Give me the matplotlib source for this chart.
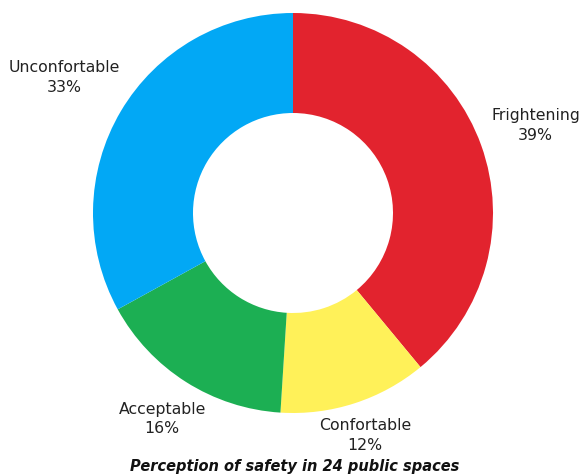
import numpy as np
import matplotlib.pyplot as plt

categories = ['Frightening', 'Confortable', 'Acceptable', 'Unconfortable']
values = [39, 12, 16, 33]
colors = ['#E2232E', '#FFF159', '#1CAF53', '#02A8F5']
label_dist = [1.29, 1.17, 1.22, 1.33]
title = 'Perception of safety in 24 public spaces'

plt.rcParams['font.family'] = ['DejaVu Sans']

fig = plt.figure(figsize=(5.84, 4.75), dpi=100)
ax = fig.add_axes([0, 0, 1, 1])

cx, cy, r = 293, 475 - 213, 200
wedges, _ = ax.pie(values, colors=colors, startangle=90, counterclock=False,
                   center=(cx, cy), radius=r,
                   wedgeprops=dict(width=r * 0.5, linewidth=0))
ax.set_xlim(0, 584)
ax.set_ylim(0, 475)
ax.set_aspect('equal')
ax.axis('off')

for w, name, v, d in zip(wedges, categories, values, label_dist):
    ang = np.deg2rad((w.theta1 + w.theta2) / 2)
    x = cx + r * d * np.cos(ang)
    y = cy + r * d * np.sin(ang)
    ax.text(x, y, f'{name}\n{v}%', ha='center', va='center', fontsize=11.3,
            color='#222222', linespacing=1.4)

ax.text(295, 475 - 466, title, ha='center', va='center', fontsize=10.5,
        fontweight='bold', fontstyle='italic', color='#111111')

fig.savefig('out.png', dpi=100)
